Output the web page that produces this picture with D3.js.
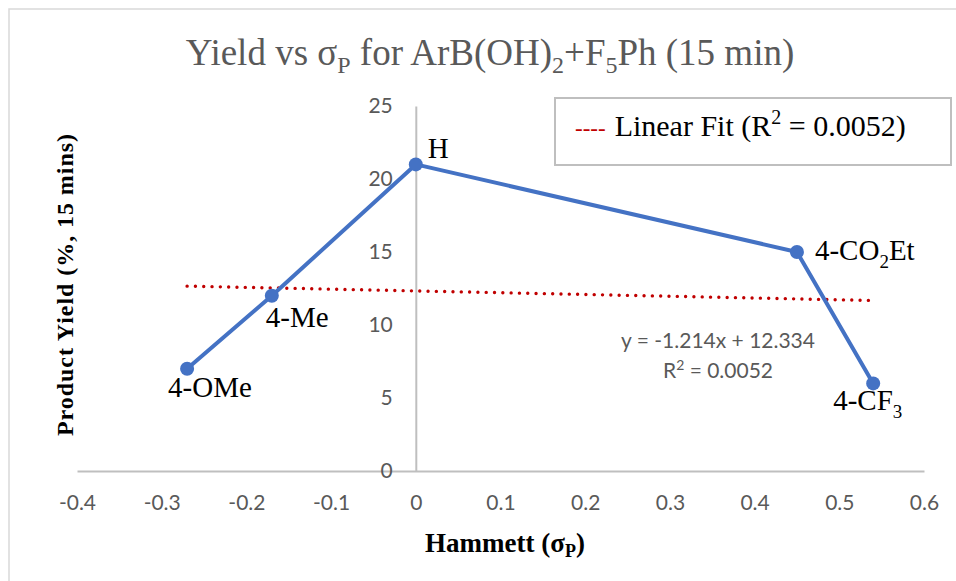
<!DOCTYPE html>
<html>
<head>
<meta charset="utf-8">
<script src="https://cdn.jsdelivr.net/npm/d3@7"></script>
<style>
  html, body { margin: 0; padding: 0; background: #fff; }
  svg { display: block; }
</style>
</head>
<body>
<svg id="chart" width="956" height="581"></svg>
<script>
// Hammett substituent constants and product yields (%, 15 min)
const substituents = ["4-OMe", "4-Me", "H", "4-CO2Et", "4-CF3"];
const sigmaP = [-0.27, -0.17, 0, 0.45, 0.54];
const yields = [7, 12, 21, 15, 6];

// Least-squares fit reported for the series
const fitSlope = -1.214;
const fitIntercept = 12.334;
const fitR2 = 0.0052;

const xTicks = [-0.4, -0.3, -0.2, -0.1, 0, 0.1, 0.2, 0.3, 0.4, 0.5, 0.6];
const yTicks = [0, 5, 10, 15, 20, 25];

const svg = d3.select("#chart");
const W = 956, H = 581;

const x = d3.scaleLinear().domain([-0.4, 0.6]).range([77, 924]);
const y = d3.scaleLinear().domain([0, 25]).range([471, 106]);

const serif = "'Liberation Serif', 'Times New Roman', serif";
const sans = "Lato, 'Open Sans', sans-serif";
const grey = "#595959";
const axisGrey = "#bfbfbf";
const blue = "#4472C4";
const red = "#C00000";

// chart frame
svg.append("rect")
  .attr("x", 9).attr("y", 9).attr("width", W + 10).attr("height", H + 10)
  .attr("fill", "#fff").attr("stroke", "#d9d9d9").attr("stroke-width", 1.5);

// title
const title = svg.append("text")
  .attr("x", 490).attr("y", 65)
  .attr("text-anchor", "middle")
  .attr("font-family", serif).attr("font-size", 37)
  .attr("fill", grey);
title.append("tspan").text("Yield vs σ");
title.append("tspan").attr("font-size", 24).attr("dy", 8).text("P");
title.append("tspan").attr("dy", -8).text(" for ArB(OH)");
title.append("tspan").attr("font-size", 24).attr("dy", 8).text("2");
title.append("tspan").attr("dy", -8).text("+F");
title.append("tspan").attr("font-size", 24).attr("dy", 8).text("5");
title.append("tspan").attr("dy", -8).text("Ph (15 min)");

// x axis (crosses at y = 0), labels below; plain hyphen for negatives
const xAxis = svg.append("g")
  .attr("transform", `translate(0,${y(0)})`)
  .call(d3.axisBottom(x).tickValues(xTicks).tickSize(0).tickPadding(24)
    .tickFormat(d => String(+d.toFixed(1))));
xAxis.select(".domain").attr("stroke", axisGrey).attr("stroke-width", 2);
xAxis.selectAll("text")
  .attr("font-family", sans).attr("font-size", 21).attr("fill", grey);

// y axis (crosses at x = 0)
const yAxis = svg.append("g")
  .attr("transform", `translate(${x(0)},0)`)
  .call(d3.axisLeft(y).tickValues(yTicks).tickSize(0).tickPadding(23));
yAxis.select(".domain").attr("stroke", axisGrey).attr("stroke-width", 2);
yAxis.selectAll("text")
  .attr("font-family", sans).attr("font-size", 21).attr("fill", grey);

// axis titles
const xTitle = svg.append("text")
  .attr("x", 505).attr("y", 552)
  .attr("text-anchor", "middle")
  .attr("font-family", serif).attr("font-weight", "bold").attr("font-size", 27)
  .attr("fill", "#000");
xTitle.append("tspan").text("Hammett (σ");
xTitle.append("tspan").attr("font-size", 18).attr("dy", 5).text("P");
xTitle.append("tspan").attr("dy", -5).text(")");

svg.append("text")
  .attr("transform", "translate(73,285) rotate(-90)")
  .attr("text-anchor", "middle")
  .attr("font-family", serif).attr("font-weight", "bold").attr("font-size", 24)
  .attr("fill", "#000")
  .attr("textLength", 302).attr("lengthAdjust", "spacing")
  .text("Product Yield (%, 15 mins)");

// linear fit across the data range
const fitX = d3.extent(sigmaP);
const fitLine = d3.line().x(d => x(d)).y(d => y(fitSlope * d + fitIntercept));
svg.append("path")
  .attr("d", fitLine(fitX))
  .attr("fill", "none").attr("stroke", red).attr("stroke-width", 3.4)
  .attr("stroke-linecap", "round").attr("stroke-dasharray", "0.01 8.3");

// data series
const pts = sigmaP.map((s, i) => ({ s, v: yields[i], name: substituents[i] }));
svg.append("path")
  .attr("d", d3.line().x(d => x(d.s)).y(d => y(d.v))(pts))
  .attr("fill", "none").attr("stroke", blue).attr("stroke-width", 4)
  .attr("stroke-linejoin", "round");
svg.selectAll("circle.pt").data(pts).join("circle")
  .attr("class", "pt")
  .attr("cx", d => x(d.s)).attr("cy", d => y(d.v)).attr("r", 7)
  .attr("fill", blue);

// point labels (offsets from each marker)
const labelOffset = {
  "4-OMe": [-19, 28], "4-Me": [-6, 31], "H": [12, -6],
  "4-CO2Et": [18, 8], "4-CF3": [-40, 27]
};
function labelParts(name) {
  if (name === "4-CO2Et") return [["4-CO", 0], ["2", 1], ["Et", 0]];
  if (name === "4-CF3") return [["4-CF", 0], ["3", 1]];
  return [[name, 0]];
}
pts.forEach(d => {
  const [dx, dy] = labelOffset[d.name];
  const t = svg.append("text")
    .attr("x", x(d.s) + dx).attr("y", y(d.v) + dy)
    .attr("font-family", serif).attr("font-size", 29).attr("fill", "#000");
  let shift = 0;
  labelParts(d.name).forEach(([txt, sub]) => {
    const target = sub ? 8 : 0;
    t.append("tspan")
      .attr("font-size", sub ? 19 : 29)
      .attr("dy", target - shift)
      .text(txt);
    shift = target;
  });
});

// trendline equation
const eq = svg.append("g").attr("font-family", sans).attr("font-size", 21)
  .attr("fill", grey).attr("text-anchor", "middle");
eq.append("text").attr("x", 718).attr("y", 348)
  .text(`y = ${fitSlope}x + ${fitIntercept}`);
const r2 = eq.append("text").attr("x", 718).attr("y", 378);
r2.append("tspan").text("R");
r2.append("tspan").attr("font-size", 14).attr("dy", -8).text("2");
r2.append("tspan").attr("dy", 8).text(` = ${fitR2}`);

// legend
svg.append("rect")
  .attr("x", 555).attr("y", 98).attr("width", 396).attr("height", 67)
  .attr("fill", "#fff").attr("stroke", axisGrey).attr("stroke-width", 2);
const lg = svg.append("text")
  .attr("x", 575).attr("y", 136)
  .attr("font-family", serif).attr("font-size", 30).attr("fill", "#000");
lg.append("tspan").attr("fill", red).attr("font-size", 23).text("----");
lg.append("tspan").attr("dx", 9).text("Linear Fit (R");
lg.append("tspan").attr("font-size", 20).attr("dy", -12).text("2");
lg.append("tspan").attr("dy", 12).text(` = ${fitR2})`);
</script>
</body>
</html>
